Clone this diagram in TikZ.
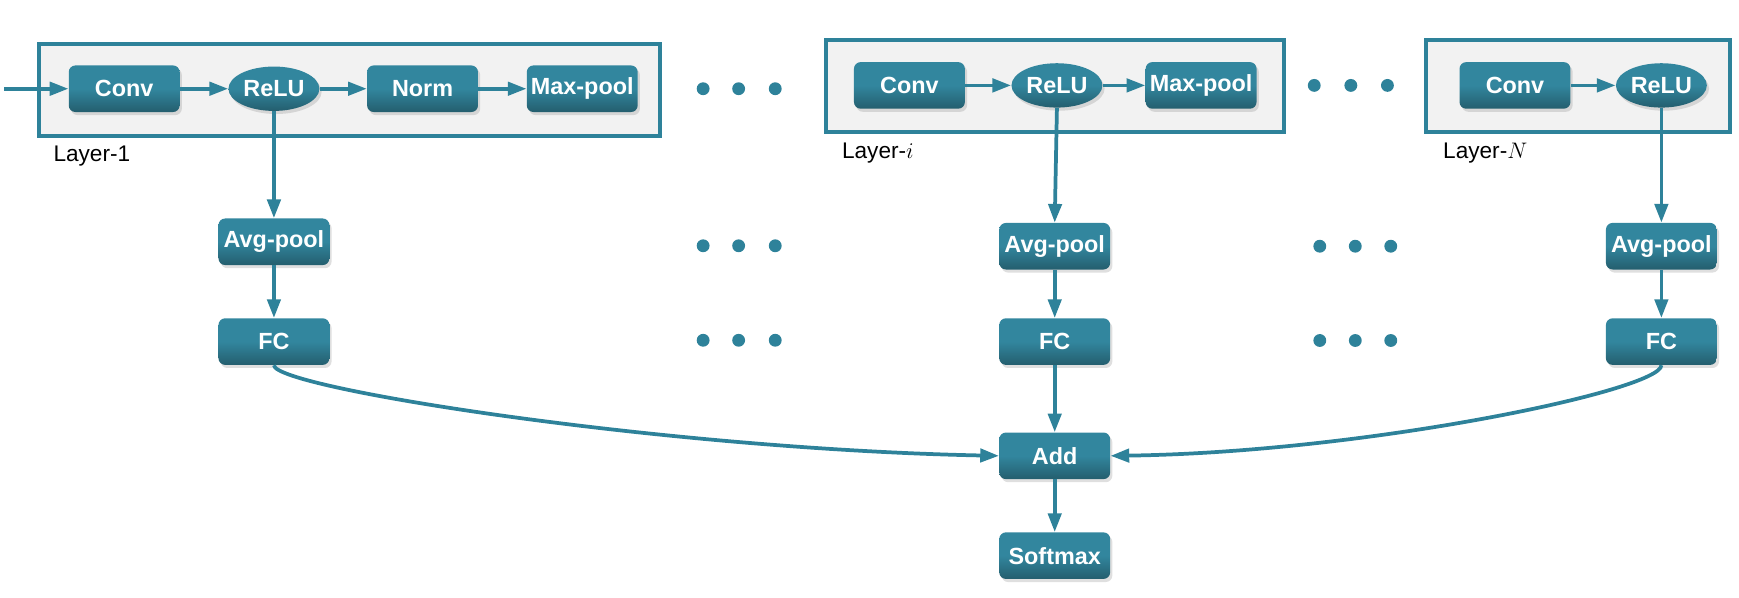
\documentclass[tikz,border=0pt]{standalone}
\usepackage{xcolor}
\usepackage{amsmath}
\usepackage{fontspec}
\setmainfont{Liberation Sans}
\usetikzlibrary{arrows.meta,shapes.geometric,shadows}

\definecolor{tealtop}{RGB}{50,134,158}
\definecolor{tealbot}{RGB}{36,94,110}
\definecolor{tealline}{RGB}{46,130,154}
\definecolor{layergray}{RGB}{242,242,242}

\tikzset{
	blk/.style = {rectangle, rounded corners=0.15cm, minimum width=2.5cm, minimum height=1.05cm,
		inner sep=0pt, top color=tealtop, bottom color=tealbot, middle color=tealtop,
		text=white, font=\bfseries\fontsize{15pt}{16pt}\selectfont,
		drop shadow={shadow xshift=0.05cm, shadow yshift=-0.07cm, opacity=0.25}},
	relu/.style = {blk, ellipse, minimum width=2.05cm, minimum height=1.0cm},
	flow/.style = {draw=tealline, line width=2.4pt, -{Triangle[length=12pt,width=8.5pt]}},
	layerbox/.style = {draw=tealline, line width=2.5pt, fill=layergray},
	layername/.style = {anchor=west, inner sep=0pt, font=\fontsize{14.5pt}{15pt}\selectfont}
}

\begin{document}
\begin{tikzpicture}
				% We will draw the layers here
				\useasboundingbox (0,0) rectangle (39.2,-13.475);
				
				\draw[layerbox] (0.875,-1.0) rectangle (14.875,-3.075);
				\draw[layerbox] (18.625,-0.9) rectangle (28.95,-2.975);
				\draw[layerbox] (32.15,-0.9) rectangle (39.0,-2.975);
				
				\coordinate (in) at (0.1,-2.0);
				\node[blk] (conv1) at (2.8,-2.0) {Conv};
				\node[relu] (relu1) at (6.175,-2.0) {ReLU};
				\node[blk] (norm1) at (9.525,-2.0) {Norm};
				\node[blk] (max1) at (13.125,-2.0) {Max-pool};
				\node[layername] (lab1) at (1.2,-3.52) {Layer-1};
				
				\node[blk] (convi) at (20.5,-1.925) {Conv};
				\node[relu] (relui) at (23.825,-1.925) {ReLU};
				\node[blk] (maxi) at (27.075,-1.925) {Max-pool};
				\node[layername] (labi) at (18.975,-3.45) {Layer-$i$};
				
				\node[blk] (convN) at (34.15,-1.925) {Conv};
				\node[relu] (reluN) at (37.45,-1.925) {ReLU};
				\node[layername] (labN) at (32.525,-3.45) {Layer-$N$};
				
				% side branches
				\node[blk] (avg1) at (6.175,-5.45) {Avg-pool};
				\node[blk] (fc1) at (6.175,-7.7) {FC};
				\node[blk] (avgi) at (23.775,-5.55) {Avg-pool};
				\node[blk] (fci) at (23.775,-7.7) {FC};
				\node[blk] (avgN) at (37.45,-5.55) {Avg-pool};
				\node[blk] (fcN) at (37.45,-7.7) {FC};
				
				\node[blk] (add) at (23.775,-10.275) {Add};
				\node[blk] (soft) at (23.775,-12.525) {Softmax};
				
				% dots
				\fill[tealline] (15.85,-2.0) circle (0.145) (16.65,-2.0) circle (0.145) (17.475,-2.0) circle (0.145);
				\fill[tealline] (15.85,-5.54) circle (0.145) (16.65,-5.54) circle (0.145) (17.475,-5.54) circle (0.145);
				\fill[tealline] (15.85,-7.67) circle (0.145) (16.65,-7.67) circle (0.145) (17.475,-7.67) circle (0.145);
				\fill[tealline] (29.625,-1.925) circle (0.145) (30.45,-1.925) circle (0.145) (31.275,-1.925) circle (0.145);
				\fill[tealline] (29.75,-5.55) circle (0.145) (30.55,-5.55) circle (0.145) (31.35,-5.55) circle (0.145);
				\fill[tealline] (29.75,-7.675) circle (0.145) (30.55,-7.675) circle (0.145) (31.35,-7.675) circle (0.145);
				
				% arrows
				\draw[flow] (in) -- (conv1);
				\draw[flow] (conv1) -- (relu1);
				\draw[flow] (relu1) -- (norm1);
				\draw[flow] (norm1) -- (max1);
				\draw[flow] (convi) -- (relui);
				\draw[flow] (relui) -- (maxi);
				\draw[flow] (convN) -- (reluN);
				
				\draw[flow] (relu1.south) -- (avg1.north);
				\draw[flow] (avg1) -- (fc1);
				\draw[flow] (relui.south) -- (avgi.north);
				\draw[flow] (avgi) -- (fci);
				\draw[flow] (reluN.south) -- (avgN.north);
				\draw[flow] (avgN) -- (fcN);
				
				\draw[flow] (fc1.south) .. controls (6.175,-8.75) and (15.0,-10.125) .. (add.west);
				\draw[flow] (fcN.south) .. controls (37.45,-8.8) and (30.75,-10.2) .. (add.east);
				\draw[flow] (fci) -- (add);
				\draw[flow] (add) -- (soft);
				
			\end{tikzpicture}
\end{document}
